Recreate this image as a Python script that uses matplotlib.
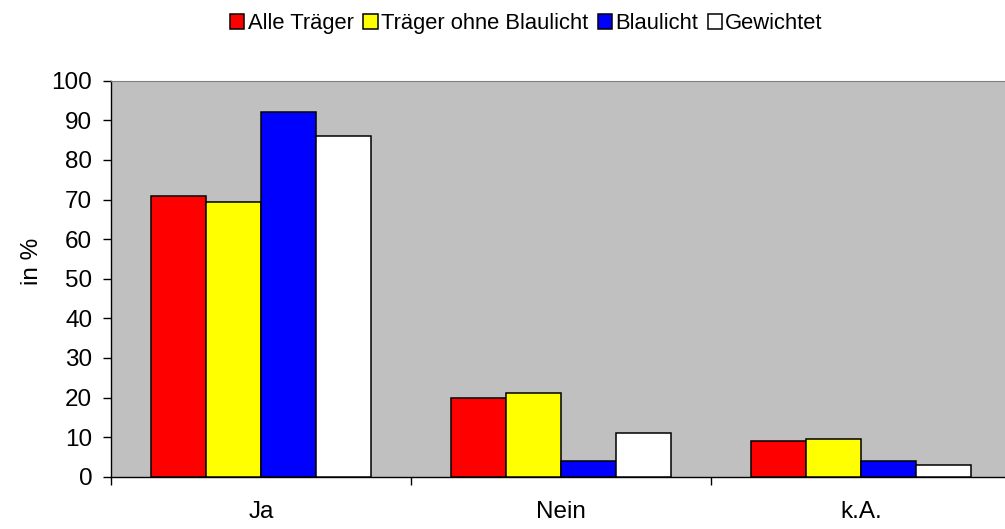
import numpy as np
import matplotlib
matplotlib.use('Agg')
import matplotlib.pyplot as plt

plt.rcParams['font.family'] = ['Liberation Sans', 'DejaVu Sans']

categories = ['Ja', 'Nein', 'k.A.']
series_names = ['Alle Träger', 'Träger ohne Blaulicht', 'Blaulicht', 'Gewichtet']
alle = [71, 20, 9]
ohne_blaulicht = [69.4, 21.2, 9.6]
blaulicht = [92, 4, 4]
gewichtet = [86, 11, 3]
colors = ['#FF0000', '#FFFF00', '#0000FF', '#FFFFFF']
y_ticks = list(range(0, 101, 10))

fig = plt.figure(figsize=(10.05, 5.29), dpi=100)
ax = fig.add_axes([111/1005, 1-476.7/529, 900/1005, (476.7-80.7)/529])
ax.set_facecolor('#C0C0C0')

x = np.arange(len(categories))
w = 0.183
for i, (vals, col, name) in enumerate(zip([alle, ohne_blaulicht, blaulicht, gewichtet], colors, series_names)):
    ax.bar(x + (i - 1.5) * w, vals, w, color=col, edgecolor='black', linewidth=1.1, label=name, zorder=3)

ax.set_xlim(-0.5, 2.5)
ax.set_ylim(0, 100)
ax.set_yticks(y_ticks)
ax.tick_params(axis='y', direction='out', length=6, width=1, pad=7.5, labelsize=17.5)
ax.set_xticks(x)
ax.set_xticklabels(categories)
ax.set_xticks([-0.5, 0.5, 1.5, 2.5], minor=True)
ax.tick_params(axis='x', which='major', length=0, pad=17.5, labelsize=17.5)
ax.tick_params(axis='x', which='minor', direction='out', length=6, width=1)
ax.set_ylabel('in %', fontsize=17.5)
ax.yaxis.set_label_coords(-0.076, 0.545)

for s in ['top', 'right']:
    ax.spines[s].set_color('#808080')
for s in ['left', 'bottom']:
    ax.spines[s].set_color('black')
    ax.spines[s].set_linewidth(1)

fig.legend(loc='upper center', bbox_to_anchor=(0.524, 1.012), ncol=4, frameon=False,
           fontsize=15.8, handlelength=0.64, handleheight=0.64, handletextpad=0.15,
           columnspacing=0.45)

fig.savefig('out.png', dpi=100)
